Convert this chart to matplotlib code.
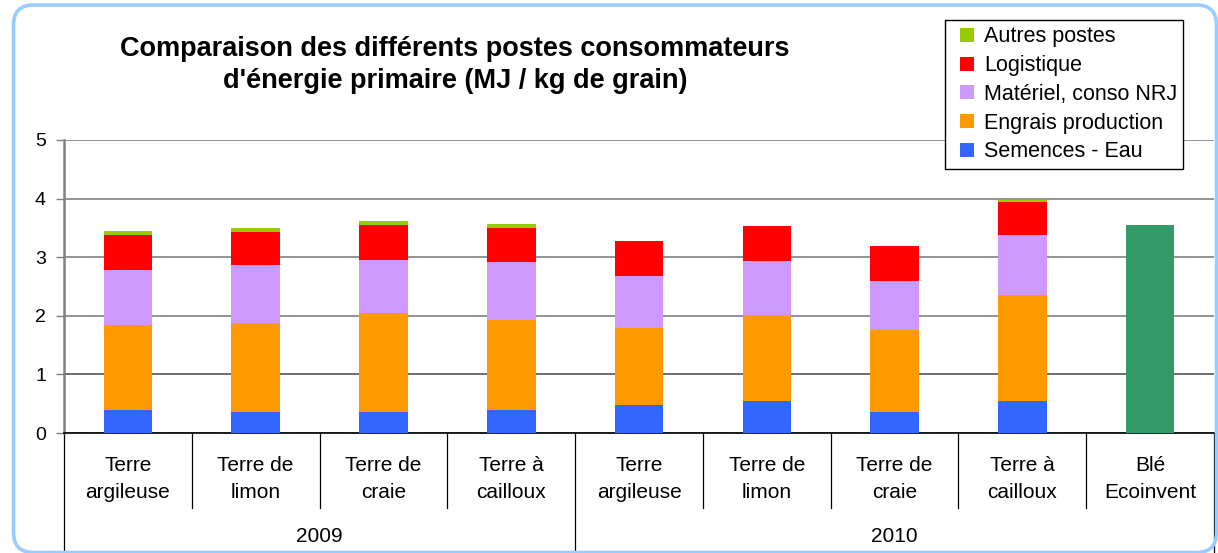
import matplotlib
matplotlib.use("Agg")
import matplotlib.pyplot as plt
import matplotlib.transforms as mtransforms
from matplotlib.patches import FancyBboxPatch
from matplotlib.lines import Line2D
import numpy as np

plt.rcParams['font.family'] = ['Liberation Sans', 'DejaVu Sans']

categories = ["Terre\nargileuse", "Terre de\nlimon", "Terre de\ncraie", "Terre à\ncailloux",
              "Terre\nargileuse", "Terre de\nlimon", "Terre de\ncraie", "Terre à\ncailloux",
              "Blé\nEcoinvent"]
years = ["2009", "2010"]

semences = [0.40, 0.36, 0.36, 0.40, 0.48, 0.54, 0.36, 0.54, 0]
engrais = [1.44, 1.52, 1.68, 1.52, 1.32, 1.47, 1.40, 1.81, 0]
materiel = [0.95, 0.98, 0.92, 0.99, 0.88, 0.93, 0.84, 1.03, 0]
logistique = [0.59, 0.57, 0.59, 0.59, 0.60, 0.60, 0.59, 0.57, 0]
autres = [0.07, 0.07, 0.07, 0.07, 0.0, 0.0, 0.0, 0.03, 0]
ecoinvent = [0, 0, 0, 0, 0, 0, 0, 0, 3.55]

series = [
    ("Semences - Eau", semences, "#3366FF"),
    ("Engrais production", engrais, "#FF9900"),
    ("Matériel, conso NRJ", materiel, "#CC99FF"),
    ("Logistique", logistique, "#FF0000"),
    ("Autres postes", autres, "#99CC00"),
]

fig = plt.figure(figsize=(12.18, 5.53), dpi=100)
ax = fig.add_axes([64 / 1218, 1 - 433 / 553, 1150 / 1218, 293 / 553])

# rounded border (in inches so the corners are circular)
border = FancyBboxPatch((0.135, 0.005), 12.03, 5.475,
                        boxstyle="round,pad=0,rounding_size=0.2",
                        transform=fig.dpi_scale_trans, fill=False,
                        edgecolor="#99CCFF", linewidth=2.6, clip_on=False)
fig.patches.append(border)

x = np.arange(len(categories))
w = 0.38
bottom = np.zeros(len(categories))
for name, vals, col in series:
    v = np.array(vals, dtype=float)
    ax.bar(x, v, w, bottom=bottom, color=col, zorder=3, linewidth=0)
    bottom += v
ax.bar(x, ecoinvent, w, color="#339966", zorder=3, linewidth=0)

ax.set_xlim(-0.5, len(categories) - 0.5)
ax.set_ylim(0, 5)
ax.set_yticks([0, 1, 2, 3, 4, 5])
ax.tick_params(axis='y', labelsize=14, length=6, width=1, pad=7, direction='out', color='#808080')
ax.grid(axis='y', color='#808080', linewidth=1.2, zorder=0)
ax.axhline(1, color='black', linewidth=1.2, zorder=1)
ax.set_xticks([])
for s in ['top', 'right']:
    ax.spines[s].set_visible(False)
ax.spines['left'].set_color('#808080')
ax.spines['left'].set_linewidth(1.8)
ax.spines['bottom'].set_color('black')
ax.spines['bottom'].set_linewidth(1.2)

trans = mtransforms.blended_transform_factory(ax.transData, ax.transAxes)
axh = 293.0
# category separators
for i in range(len(categories) + 1):
    xb = i - 0.5
    if i in (0, 4, 9):
        y_end = -(553 - 433) / axh
    else:
        y_end = -(508 - 433) / axh
    ax.plot([xb, xb], [0, y_end], color='black', linewidth=0.9, transform=trans, clip_on=False)

for i, c in enumerate(categories):
    ax.text(i, -(479 - 433) / axh, c, transform=trans, ha='center', va='center',
            fontsize=15, linespacing=1.58)

ax.text(1.5, -(537 - 433) / axh, years[0], transform=trans, ha='center', va='center', fontsize=15)
ax.text(6.0, -(537 - 433) / axh, years[1], transform=trans, ha='center', va='center', fontsize=15)

fig.text(455 / 1218, 1 - 65 / 553,
         "Comparaison des différents postes consommateurs\nd'énergie primaire (MJ / kg de grain)",
         ha='center', va='center', fontsize=19.5, fontweight='bold', linespacing=1.35)

handles = [Line2D([], [], linestyle='none', marker='s', markersize=9.5, markerfacecolor=col,
                  markeredgewidth=0, label=name) for name, vals, col in series[::-1]]
leg = fig.legend(handles=handles, loc='upper left',
                 bbox_to_anchor=(945 / 1218, 1 - 20 / 553), fontsize=15.5,
                 frameon=True, fancybox=False, edgecolor='black', framealpha=1,
                 handlelength=1.4, handletextpad=0.1,
                 labelspacing=0.36, borderpad=0.3, borderaxespad=0)
leg.get_frame().set_linewidth(1.0)

fig.savefig("out.png", dpi=100)
